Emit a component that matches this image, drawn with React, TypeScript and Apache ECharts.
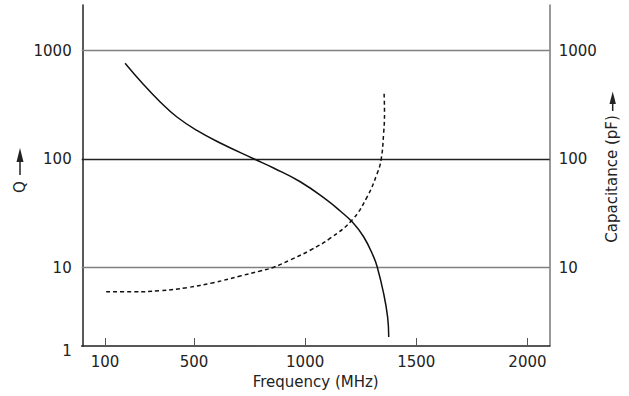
import React, { useEffect, useRef } from "react";
import * as echarts from "echarts";

// Tick labels
const xTicks = [100, 500, 1000, 1500, 2000];
const gridValues = [1000, 100, 10];

// Q curve (solid, left axis)
const freqQ = [190, 272, 347, 422, 513, 618, 768, 858, 978, 1098, 1158, 1211, 1263, 1308, 1324, 1353, 1371, 1376];
const qValues = [766, 490, 339, 246, 184, 141, 101, 83, 62, 42, 33.3, 26.5, 19.3, 12.6, 10.2, 5.8, 3.5, 2.3];

// Capacitance curve (dashed, right axis)
const freqC = [105, 227, 347, 467, 587, 708, 798, 858, 933, 1023, 1113, 1211, 1279, 1324, 1342, 1353, 1357, 1355];
const capValues = [6.0, 6.0, 6.14, 6.55, 7.28, 8.39, 9.33, 10.1, 11.8, 14.5, 18.7, 27.5, 45, 74, 100, 173, 265, 410];

const Y_MIN = 1.9;
const Y_MAX = 2636;
const FONT = "DejaVu Sans";

export default function App() {
  const ref = useRef<HTMLDivElement>(null);

  useEffect(() => {
    if (!ref.current) return;
    const chart = echarts.init(ref.current, undefined, { renderer: "svg" });

    const qData = freqQ.map((f, i) => [f, qValues[i]]);
    const cData = freqC.map((f, i) => [f, capValues[i]]);
    const gridColors: Record<number, string> = { 1000: "#808080", 100: "#222", 10: "#808080" };

    const yAxisBase = (right: boolean) => ({
      type: "log",
      logBase: 10,
      min: Y_MIN,
      max: Y_MAX,
      position: right ? "right" : "left",
      axisLine: { show: true, lineStyle: { color: right ? "#777" : "#222", width: 1.5 } },
      axisTick: { show: false },
      splitLine: { show: false },
      axisLabel: {
        fontFamily: FONT,
        fontSize: 15,
        color: "#222",
        margin: right ? 9 : 10,
        showMinLabel: true,
        showMaxLabel: false,
        formatter: (v: number) => {
          if (v < 5) return right ? "" : "{low|1}";
          if (v > 2000) return "";
          return String(Math.round(v));
        },
        rich: { low: { fontFamily: FONT, fontSize: 15, color: "#222", padding: [9, 0, 0, 0] } },
      },
    });

    chart.setOption({
      animation: false,
      backgroundColor: "#fff",
      textStyle: { fontFamily: FONT },
      grid: { left: 81.7, right: 79.3, top: 5, bottom: 50, containLabel: false, outerBoundsMode: "none" },
      xAxis: {
        type: "value",
        min: -5,
        max: 2100,
        axisLine: { lineStyle: { color: "#222", width: 1.5 } },
        axisTick: { show: true, inside: true, length: 8, customValues: xTicks, lineStyle: { color: "#555" } },
        axisLabel: {
          customValues: xTicks,
          fontFamily: FONT,
          fontSize: 15,
          color: "#222",
          margin: 8,
          formatter: (v: number) => String(v),
        },
        splitLine: { show: false },
        name: "Frequency (MHz)",
        nameLocation: "middle",
        nameGap: 28,
        nameTextStyle: { fontFamily: FONT, fontSize: 15, color: "#222" },
      },
      yAxis: [yAxisBase(false), yAxisBase(true)],
      series: [
        {
          type: "line",
          name: "Q",
          yAxisIndex: 0,
          data: qData,
          symbol: "none",
          smooth: 0.45,
          lineStyle: { color: "#111", width: 1.5 },
          z: 3,
          markLine: {
            silent: true,
            symbol: ["none", "none"],
            label: { show: false },
            z: 1,
            data: gridValues.map((g) => ({
              yAxis: g,
              lineStyle: { color: gridColors[g], width: 1.3, type: "solid" },
            })),
          },
        },
        {
          type: "line",
          name: "Capacitance",
          yAxisIndex: 1,
          data: cData,
          symbol: "none",
          smooth: 0.45,
          lineStyle: { color: "#111", width: 1.5, type: [4, 3] },
          z: 3,
        },
      ],
      graphic: [
        { type: "line", shape: { x1: 20, y1: 175, x2: 20, y2: 160 }, style: { stroke: "#222", lineWidth: 1.5 } },
        { type: "polygon", shape: { points: [[16.5, 162], [23.5, 162], [20, 148]] }, style: { fill: "#222" } },
        {
          type: "text",
          x: 20,
          y: 187,
          rotation: Math.PI / 2,
          style: { text: "Q", fontFamily: FONT, fontSize: 15, fill: "#222", align: "center", verticalAlign: "middle" },
        },
        { type: "line", shape: { x1: 612.7, y1: 111, x2: 612.7, y2: 102 }, style: { stroke: "#222", lineWidth: 1.5 } },
        { type: "polygon", shape: { points: [[609.5, 104], [615.9, 104], [612.7, 91.5]] }, style: { fill: "#222" } },
        {
          type: "text",
          x: 612,
          y: 179,
          rotation: Math.PI / 2,
          style: {
            text: "Capacitance (pF)",
            fontFamily: FONT,
            fontSize: 15,
            fill: "#222",
            align: "center",
            verticalAlign: "middle",
          },
        },
      ],
    });

    return () => chart.dispose();
  }, []);

  return (
    <div
      ref={ref}
      style={{ position: "absolute", left: 0, top: 0, width: 629, height: 396 }}
    />
  );
}
